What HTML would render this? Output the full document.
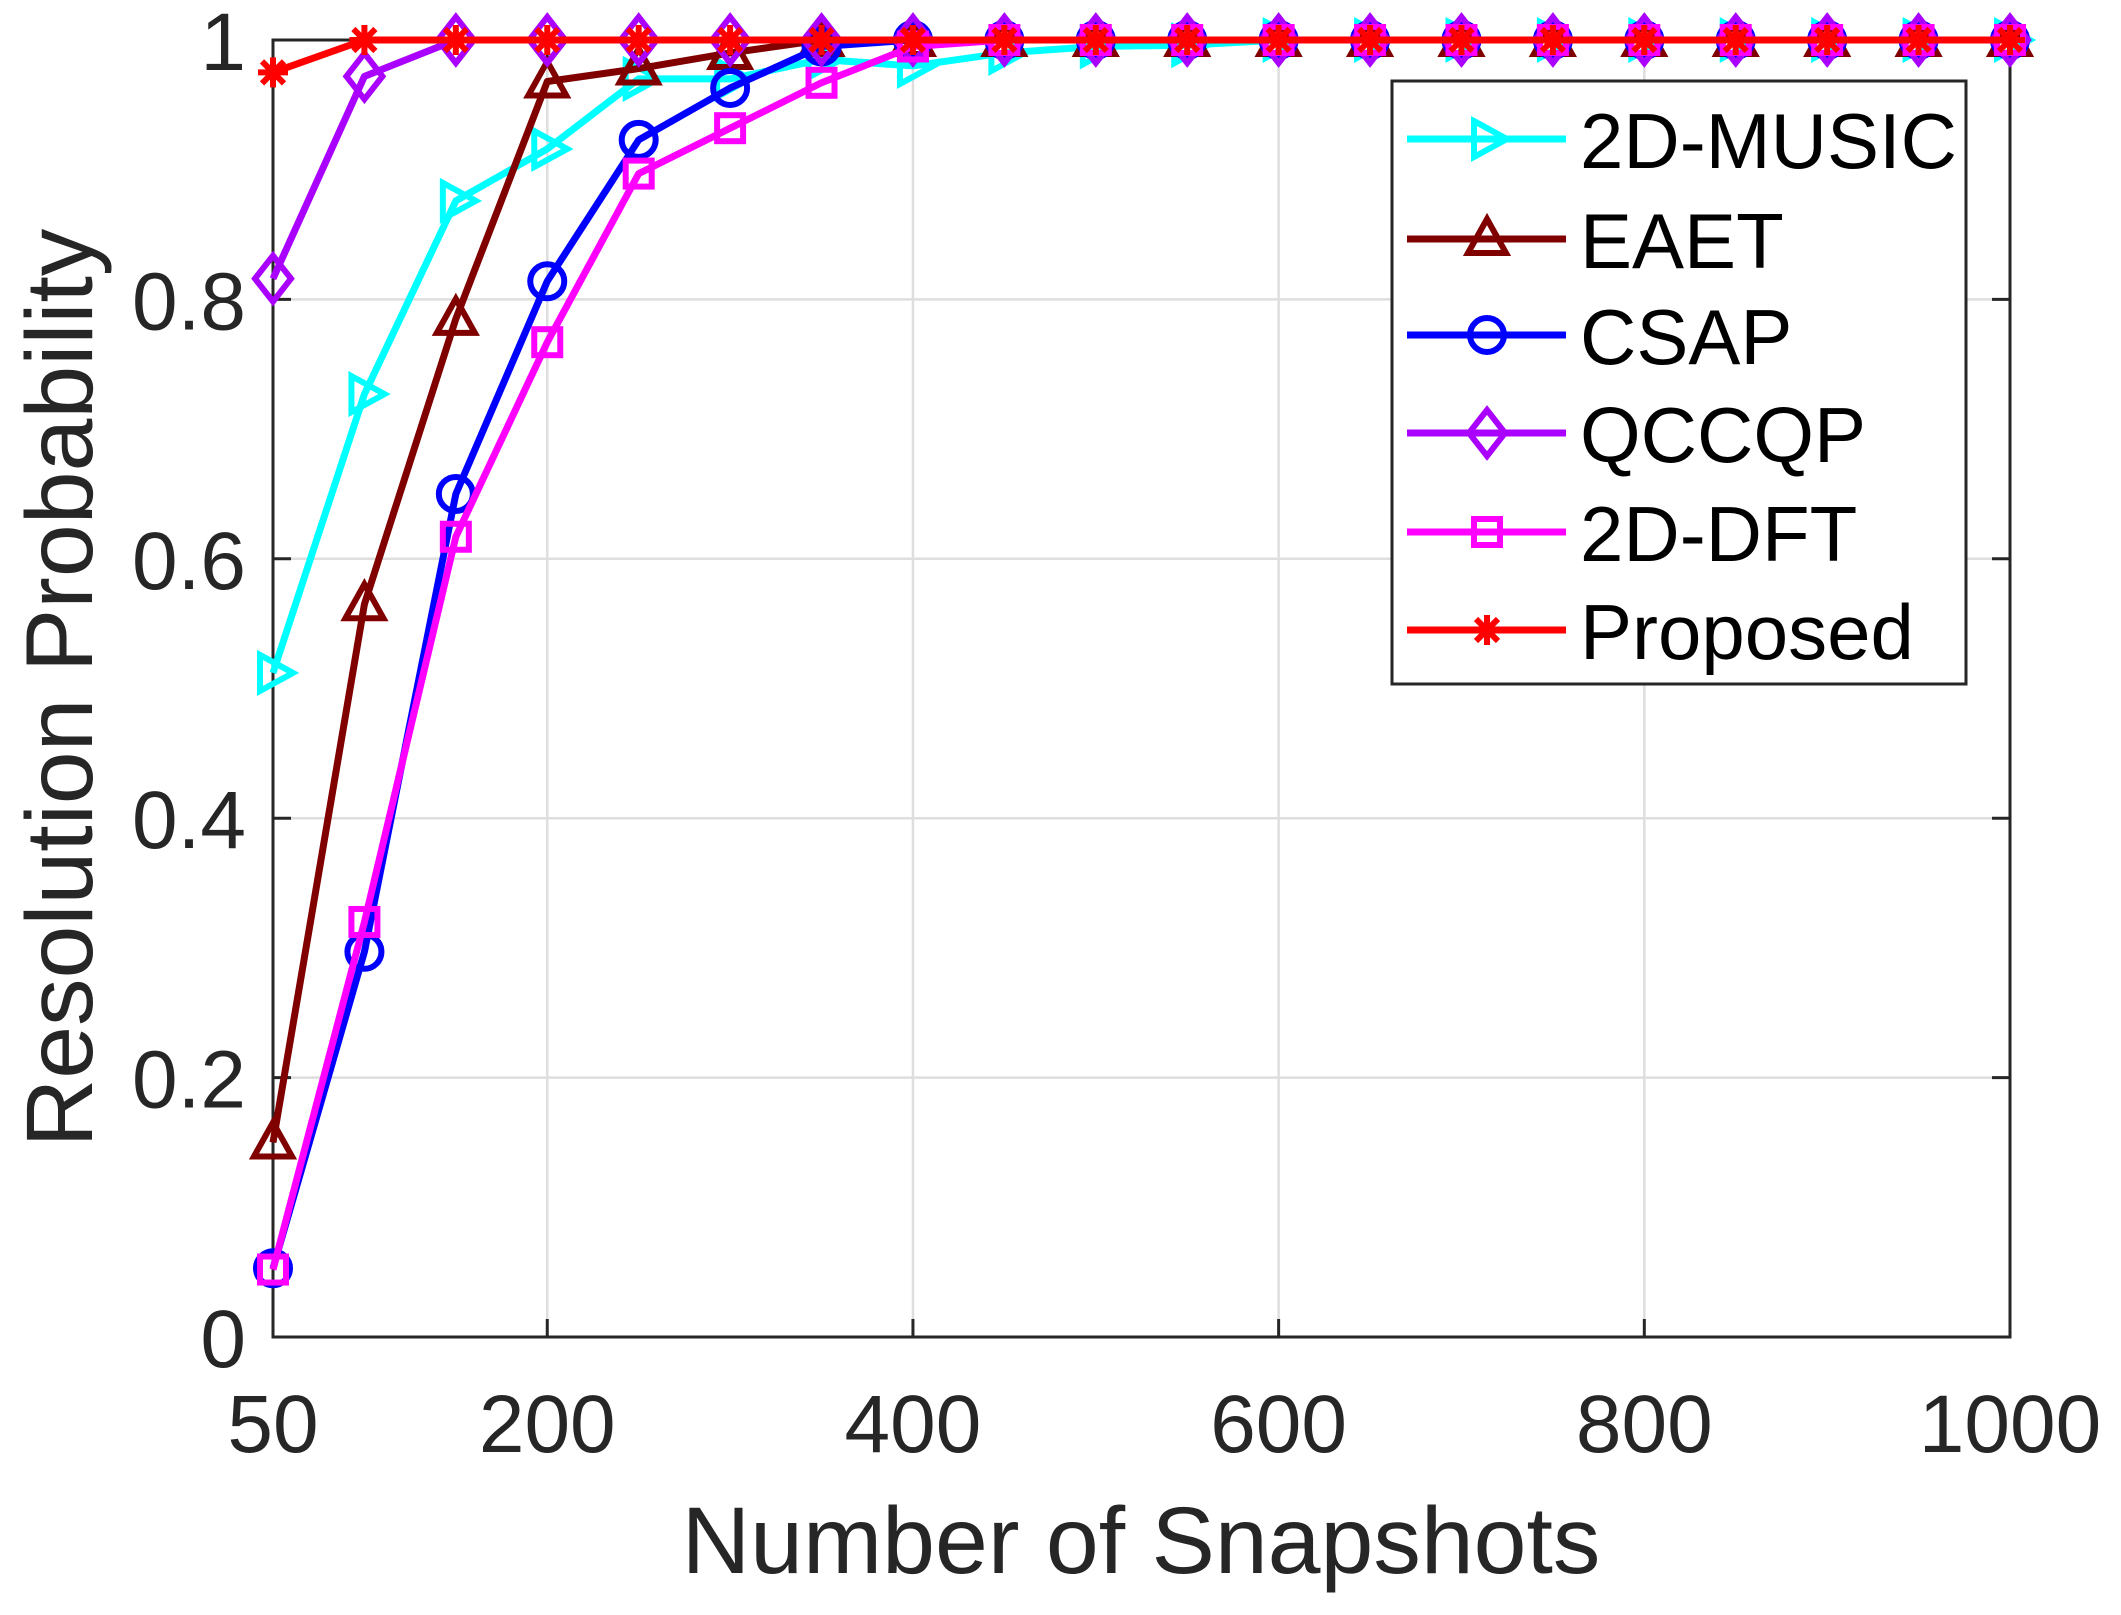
<!DOCTYPE html>
<html><head><meta charset="utf-8"><style>
html,body{margin:0;padding:0;background:#fff;}
svg{display:block;font-family:"Liberation Sans",Arial,sans-serif;}
</style></head><body>
<svg id="c" width="2121" height="1615" viewBox="0 0 2121 1615" xmlns="http://www.w3.org/2000/svg"></svg>
<script>
const L=273,R=2010,T=40,B=1337;
const X=v=>L+(v-50)/950*(R-L), Y=v=>B-v*(B-T);
let s='';
[200,400,600,800].forEach(v=>{s+=`<line x1="${X(v)}" y1="${T}" x2="${X(v)}" y2="${B}" stroke="#dedede" stroke-width="2.5"/>`;});
[0.2,0.4,0.6,0.8].forEach(v=>{s+=`<line x1="${L}" y1="${Y(v)}" x2="${R}" y2="${Y(v)}" stroke="#dedede" stroke-width="2.5"/>`;});
[200,400,600,800].forEach(v=>{s+=`<line x1="${X(v)}" y1="${B}" x2="${X(v)}" y2="${B-18}" stroke="#262626" stroke-width="3"/><line x1="${X(v)}" y1="${T}" x2="${X(v)}" y2="${T+18}" stroke="#262626" stroke-width="3"/>`;});
[0.2,0.4,0.6,0.8].forEach(v=>{s+=`<line x1="${L}" y1="${Y(v)}" x2="${L+18}" y2="${Y(v)}" stroke="#262626" stroke-width="3"/><line x1="${R}" y1="${Y(v)}" x2="${R-18}" y2="${Y(v)}" stroke="#262626" stroke-width="3"/>`;});
s+=`<rect x="${L}" y="${T}" width="${R-L}" height="${B-T}" fill="none" stroke="#262626" stroke-width="3"/>`;
[50,200,400,600,800,1000].forEach(v=>{s+=`<text x="${X(v)}" y="1452" font-size="82" fill="#262626" text-anchor="middle">${v}</text>`;});
[[0,'0'],[0.2,'0.2'],[0.4,'0.4'],[0.6,'0.6'],[0.8,'0.8'],[1,'1']].forEach(([v,t])=>{s+=`<text x="246" y="${Y(v)+30}" font-size="82" fill="#262626" text-anchor="end">${t}</text>`;});
s+=`<text x="1141" y="1573" font-size="95" fill="#262626" text-anchor="middle">Number of Snapshots</text>`;
s+=`<text transform="translate(92,688) rotate(-90)" font-size="95" fill="#262626" text-anchor="middle">Resolution Probability</text>`;
function pad(a){while(a.length<20)a.push(1);return a;}
const ser=[
['#00ffff','tri',pad([0.512,0.727,0.876,0.916,0.97,0.97,0.985,0.98,0.99,0.995,0.996])],
['#800000','up',pad([0.15,0.565,0.785,0.968,0.978,0.99,1])],
['#0000ff','o',pad([0.053,0.297,0.65,0.814,0.923,0.963,0.995,1])],
['#aa00ff','d',pad([0.816,0.972,1])],
['#ff00ff','sq',pad([0.052,0.32,0.617,0.767,0.897,0.932,0.967,0.995,1])],
['#ff0000','st',pad([0.975,1])]
];
function mk(t,x,y,c){
 const w=`fill="none" stroke="${c}" stroke-width="6"`;
 if(t=='tri')return `<polygon points="${x-13},${y-18} ${x+20},${y} ${x-13},${y+18}" ${w}/>`;
 if(t=='up')return `<polygon points="${x},${y-20} ${x+19},${y+14} ${x-19},${y+14}" ${w}/>`;
 if(t=='o')return `<circle cx="${x}" cy="${y}" r="17" ${w}/>`;
 if(t=='d')return `<polygon points="${x},${y-23} ${x+18},${y} ${x},${y+23} ${x-18},${y}" ${w}/>`;
 if(t=='sq')return `<rect x="${x-13}" y="${y-13}" width="26" height="26" ${w}/>`;
 if(t=='st')return `<g stroke="${c}" stroke-width="6"><line x1="${x-15}" y1="${y}" x2="${x+15}" y2="${y}"/><line x1="${x}" y1="${y-15}" x2="${x}" y2="${y+15}"/><line x1="${x-11}" y1="${y-11}" x2="${x+11}" y2="${y+11}"/><line x1="${x-11}" y1="${y+11}" x2="${x+11}" y2="${y-11}"/></g>`;
}
ser.forEach(([c,t,d])=>{
 const pts=d.map((v,i)=>[X(50+50*i),Y(v)]);
 s+=`<polyline points="${pts.map(p=>p.join(',')).join(' ')}" fill="none" stroke="${c}" stroke-width="7" stroke-linejoin="round"/>`;
 pts.forEach(p=>s+=mk(t,p[0],p[1],c));
});
s+=`<rect x="1392" y="81" width="574" height="603" fill="#fff" stroke="#262626" stroke-width="3"/>`;
const names=['2D-MUSIC','EAET','CSAP','QCCQP','2D-DFT','Proposed'], ly=[139,239,335,433,532,630];
ser.forEach(([c,t],i)=>{const y=ly[i];
 s+=`<line x1="1407" y1="${y}" x2="1566" y2="${y}" stroke="${c}" stroke-width="7"/>`+mk(t,1487,y,c);
 s+=`<text x="1580" y="${y+29}" font-size="78" fill="#000">${names[i]}</text>`;});
document.getElementById('c').innerHTML=s;
</script>
</body></html>
